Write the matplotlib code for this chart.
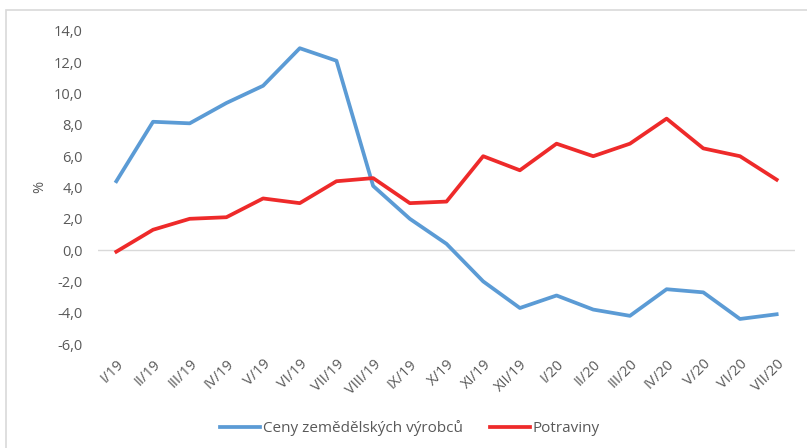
import matplotlib.pyplot as plt
from matplotlib.patches import Rectangle
from matplotlib.ticker import FuncFormatter

# Monthly year-on-year change, %
months = ["I/19", "II/19", "III/19", "IV/19", "V/19", "VI/19", "VII/19", "VIII/19",
          "IX/19", "X/19", "XI/19", "XII/19", "I/20", "II/20", "III/20", "IV/20",
          "V/20", "VI/20", "VII/20"]
producer_prices = [4.4, 8.2, 8.1, 9.4, 10.5, 12.9, 12.1, 4.1, 2.0, 0.4, -2.0, -3.7,
                   -2.9, -3.8, -4.2, -2.5, -2.7, -4.4, -4.1]
food_prices = [-0.1, 1.3, 2.0, 2.1, 3.3, 3.0, 4.4, 4.6, 3.0, 3.1, 6.0, 5.1,
               6.8, 6.0, 6.8, 8.4, 6.5, 6.0, 4.5]

TEXT = "#595959"
plt.rcParams["font.family"] = ["Open Sans", "DejaVu Sans"]

fig = plt.figure(figsize=(8.07, 4.48), dpi=100)
# thin frame around the chart area
fig.patches.append(Rectangle((6 / 807, -0.05), 1.0, 1 - 10 / 448 + 0.05,
                             transform=fig.transFigure, fill=False,
                             edgecolor="#D9D9D9", linewidth=1.2))

ax = fig.add_axes([98 / 807, 1 - 344 / 448, (795 - 98) / 807, (344 - 31) / 448])
x = list(range(len(months)))
ax.plot(x, producer_prices, color="#5B9BD5", linewidth=2.7,
        solid_joinstyle="round", label="Ceny zemědělských výrobců")
ax.plot(x, food_prices, color="#EE2A2A", linewidth=2.7,
        solid_joinstyle="round", label="Potraviny")
ax.axhline(0, color="#D9D9D9", linewidth=1.0, zorder=0)

ax.set_xlim(-0.5, len(months) - 0.5)
ax.set_ylim(-6, 14)
ax.set_yticks(range(-6, 15, 2))
ax.yaxis.set_major_formatter(FuncFormatter(lambda v, _: f"{v:.1f}".replace(".", ",")))
ax.set_xticks(x)
ax.set_xticklabels(months, rotation=45, ha="right", rotation_mode="anchor")
ax.tick_params(axis="y", length=0, pad=11, labelsize=10.5, labelcolor=TEXT)
ax.tick_params(axis="x", length=0, pad=9, labelsize=10.5, labelcolor=TEXT)
for side in ax.spines.values():
    side.set_visible(False)

fig.text(40 / 807, 1 - 187 / 448, "%", rotation=90, ha="center", va="center",
         fontsize=10.5, color=TEXT)

fig.legend(loc="center", bbox_to_anchor=(410 / 807, 1 - 428 / 448), ncol=2,
           frameon=False, fontsize=11, handlelength=2.6, handletextpad=0.2,
           columnspacing=1.8, labelcolor=TEXT)

fig.savefig("out.png", dpi=100)
